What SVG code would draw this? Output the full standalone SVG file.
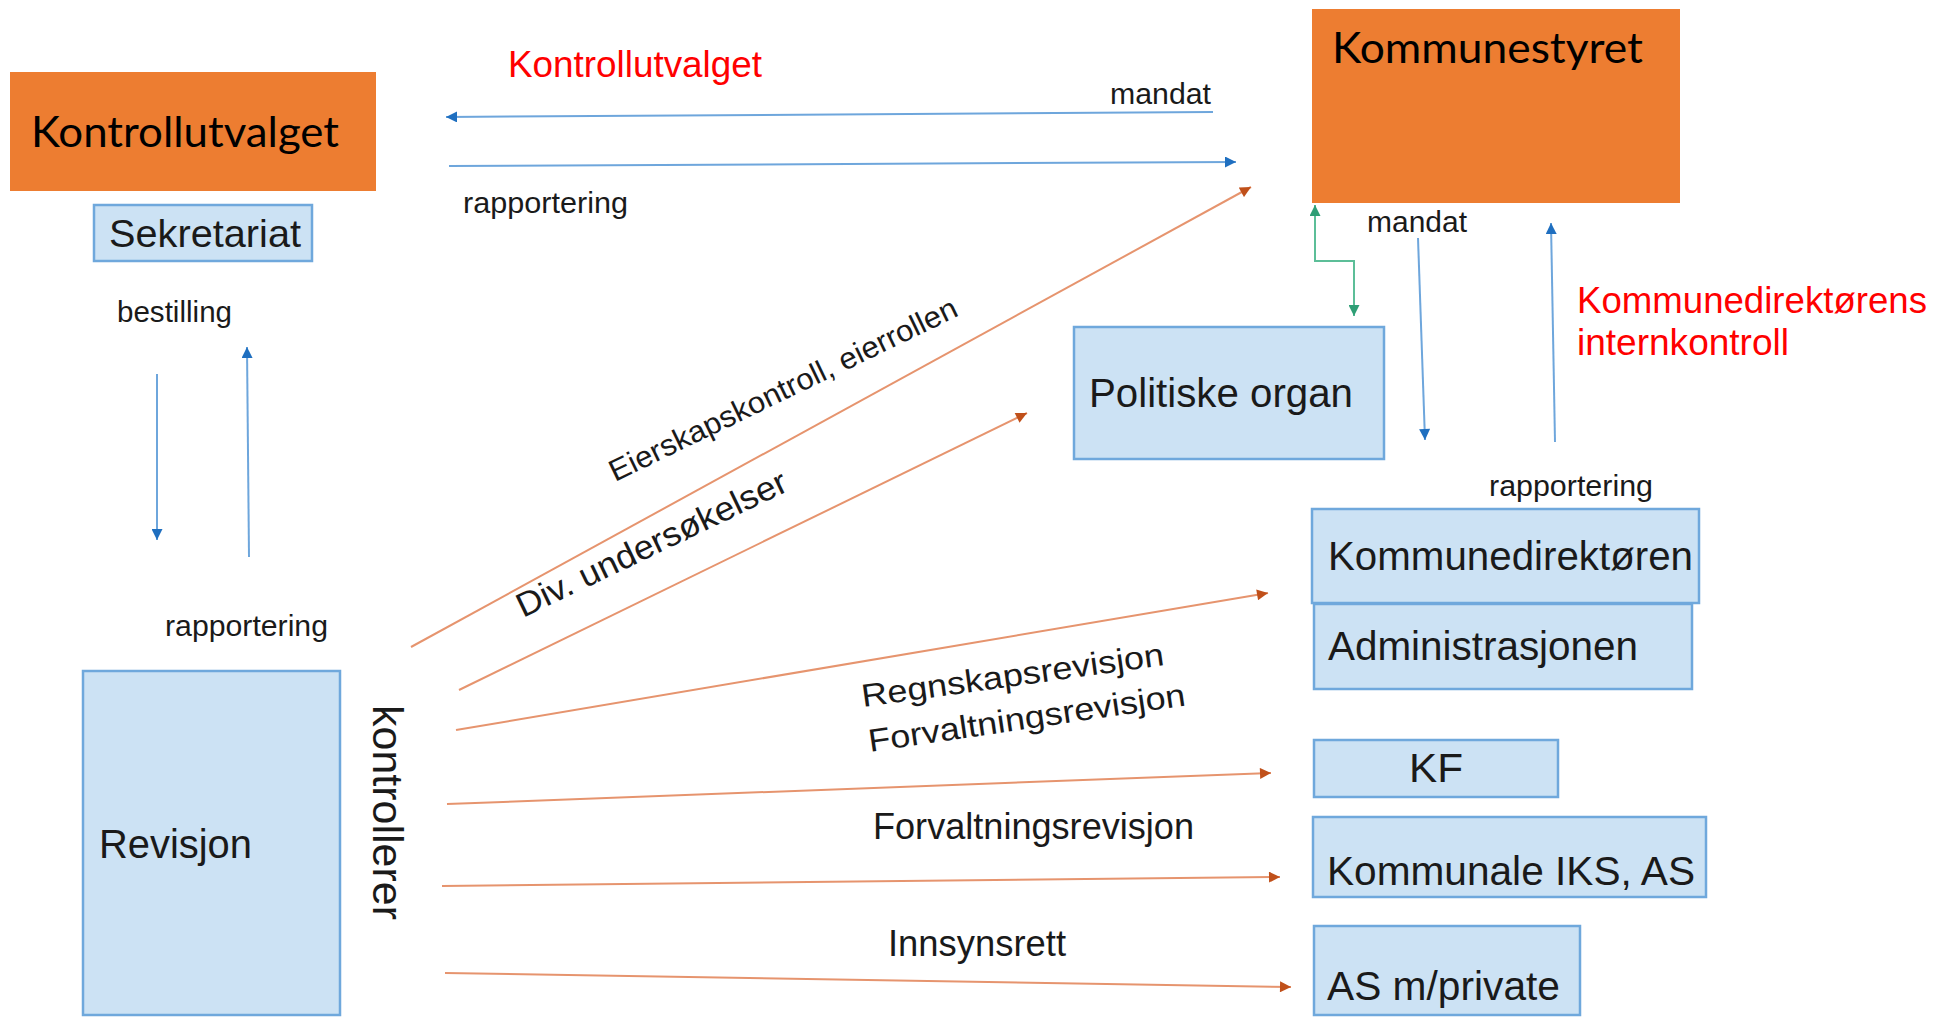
<svg xmlns="http://www.w3.org/2000/svg" width="1934" height="1017" viewBox="0 0 1934 1017">
<style>
.org{fill:#ED7D31}
.box{fill:#CCE2F4;stroke:#6FA8DC;stroke-width:2.5}
.t{font-family:"Liberation Sans",Arial,sans-serif;fill:#1a1a1a}
.cal{font-family:Lato,"Open Sans",sans-serif;fill:#000;font-size:42px}
.red{font-family:"Liberation Sans",Arial,sans-serif;fill:#FF0000;font-size:37px}
.blue{stroke:#6EA6DC;stroke-width:2;fill:none;marker-end:url(#ab)}
.orl{stroke:#E6946E;stroke-width:2;fill:none;marker-end:url(#ao)}
.grn{stroke:#5CBE98;stroke-width:2;fill:none;marker-start:url(#ag);marker-end:url(#ag)}
</style>
<defs>
<marker id="ab" viewBox="0 0 10 10" refX="10" refY="5" markerWidth="12" markerHeight="11" markerUnits="userSpaceOnUse" orient="auto"><path d="M0,0 L10,5 L0,10 z" fill="#1F6FC0"/></marker>
<marker id="ao" viewBox="0 0 10 10" refX="10" refY="5" markerWidth="12" markerHeight="11" markerUnits="userSpaceOnUse" orient="auto"><path d="M0,0 L10,5 L0,10 z" fill="#C0501A"/></marker>
<marker id="ag" viewBox="0 0 10 10" refX="10" refY="5" markerWidth="12" markerHeight="11" markerUnits="userSpaceOnUse" orient="auto-start-reverse"><path d="M0,0 L10,5 L0,10 z" fill="#2E9E75"/></marker>
</defs>
<rect width="1934" height="1017" fill="#fff"/>

<g id="connectors">
<line class="blue" x1="1213" y1="112" x2="446" y2="117"/>
<line class="blue" x1="449" y1="166" x2="1236" y2="162"/>
<line class="blue" x1="157" y1="374" x2="157" y2="540"/>
<line class="blue" x1="249" y1="557" x2="247" y2="347"/>
<line class="blue" x1="1418" y1="238" x2="1425" y2="440"/>
<line class="blue" x1="1555" y1="442" x2="1551" y2="223"/>
<path class="grn" d="M1354,316 L1354,261 L1315,261 L1315,205"/>
<line class="orl" x1="411" y1="647" x2="1251" y2="187"/>
<line class="orl" x1="459" y1="690" x2="1027" y2="413"/>
<line class="orl" x1="456" y1="730" x2="1268" y2="593"/>
<line class="orl" x1="447" y1="804" x2="1271" y2="773"/>
<line class="orl" x1="442" y1="886" x2="1280" y2="877"/>
<line class="orl" x1="445" y1="973" x2="1291" y2="987"/>
</g>

<g id="labels">
<text class="red" x="508" y="77" textLength="254" lengthAdjust="spacingAndGlyphs">Kontrollutvalget</text>
<text class="t" x="1110" y="104" font-size="30" textLength="101" lengthAdjust="spacingAndGlyphs">mandat</text>
<text class="t" x="463" y="213" font-size="30" textLength="165" lengthAdjust="spacingAndGlyphs">rapportering</text>
<text class="t" x="117" y="322" font-size="30" textLength="115" lengthAdjust="spacingAndGlyphs">bestilling</text>
<text class="t" x="165" y="636" font-size="30" textLength="163" lengthAdjust="spacingAndGlyphs">rapportering</text>
<text class="t" font-size="42" transform="translate(373,705) rotate(90)" textLength="215" lengthAdjust="spacingAndGlyphs">kontrollerer</text>
<text class="t" x="1367" y="232" font-size="30" textLength="100" lengthAdjust="spacingAndGlyphs">mandat</text>
<text class="red" x="1577" y="313" textLength="350" lengthAdjust="spacingAndGlyphs">Kommunedirektørens</text>
<text class="red" x="1577" y="355" textLength="212" lengthAdjust="spacingAndGlyphs">internkontroll</text>
<text class="t" x="1489" y="496" font-size="30" textLength="164" lengthAdjust="spacingAndGlyphs">rapportering</text>
<text class="t" font-size="30" transform="translate(615,482) rotate(-25.8)" textLength="383" lengthAdjust="spacingAndGlyphs">Eierskapskontroll,  eierrollen</text>
<text class="t" font-size="34" transform="translate(523,618) rotate(-25.6)" textLength="296" lengthAdjust="spacingAndGlyphs">Div. undersøkelser</text>
<text class="t" font-size="32" transform="translate(863,707) rotate(-7.9)" textLength="305" lengthAdjust="spacingAndGlyphs">Regnskapsrevisjon</text>
<text class="t" font-size="32" transform="translate(870,752) rotate(-8.4)" textLength="320" lengthAdjust="spacingAndGlyphs">Forvaltningsrevisjon</text>
<text class="t" x="873" y="839" font-size="36" textLength="321" lengthAdjust="spacingAndGlyphs">Forvaltningsrevisjon</text>
<text class="t" x="888" y="956" font-size="36" textLength="178" lengthAdjust="spacingAndGlyphs">Innsynsrett</text>
</g>

<g id="kontrollutvalget">
<rect class="org" x="10" y="72" width="366" height="119"/>
<text class="cal" x="31" y="147" textLength="308" lengthAdjust="spacingAndGlyphs">Kontrollutvalget</text>
</g>
<g id="kommunestyret">
<rect class="org" x="1312" y="9" width="368" height="194"/>
<text class="cal" x="1332" y="63" textLength="311" lengthAdjust="spacingAndGlyphs">Kommunestyret</text>
</g>
<g id="sekretariat">
<rect class="box" x="94" y="205" width="218" height="56"/>
<text class="t" x="109" y="247" font-size="39" textLength="192" lengthAdjust="spacingAndGlyphs">Sekretariat</text>
</g>
<g id="revisjon">
<rect class="box" x="83" y="671" width="257" height="344"/>
<text class="t" x="99" y="858" font-size="40" textLength="153" lengthAdjust="spacingAndGlyphs">Revisjon</text>
</g>
<g id="politiske">
<rect class="box" x="1074" y="327" width="310" height="132"/>
<text class="t" x="1089" y="407" font-size="40" textLength="264" lengthAdjust="spacingAndGlyphs">Politiske organ</text>
</g>
<g id="kommunedirektoren">
<rect class="box" x="1312" y="509" width="387" height="94"/>
<text class="t" x="1328" y="570" font-size="40" textLength="365" lengthAdjust="spacingAndGlyphs">Kommunedirektøren</text>
</g>
<g id="administrasjonen">
<rect class="box" x="1314" y="604" width="378" height="85"/>
<text class="t" x="1328" y="660" font-size="40" textLength="310" lengthAdjust="spacingAndGlyphs">Administrasjonen</text>
</g>
<g id="kf">
<rect class="box" x="1314" y="740" width="244" height="57"/>
<text class="t" x="1409" y="782" font-size="40" textLength="54" lengthAdjust="spacingAndGlyphs">KF</text>
</g>
<g id="kommunale">
<rect class="box" x="1313" y="817" width="393" height="80"/>
<text class="t" x="1327" y="885" font-size="40" textLength="368" lengthAdjust="spacingAndGlyphs">Kommunale IKS, AS</text>
</g>
<g id="asprivate">
<rect class="box" x="1314" y="926" width="266" height="89"/>
<text class="t" x="1327" y="1000" font-size="40" textLength="233" lengthAdjust="spacingAndGlyphs">AS m/private</text>
</g>
</svg>
